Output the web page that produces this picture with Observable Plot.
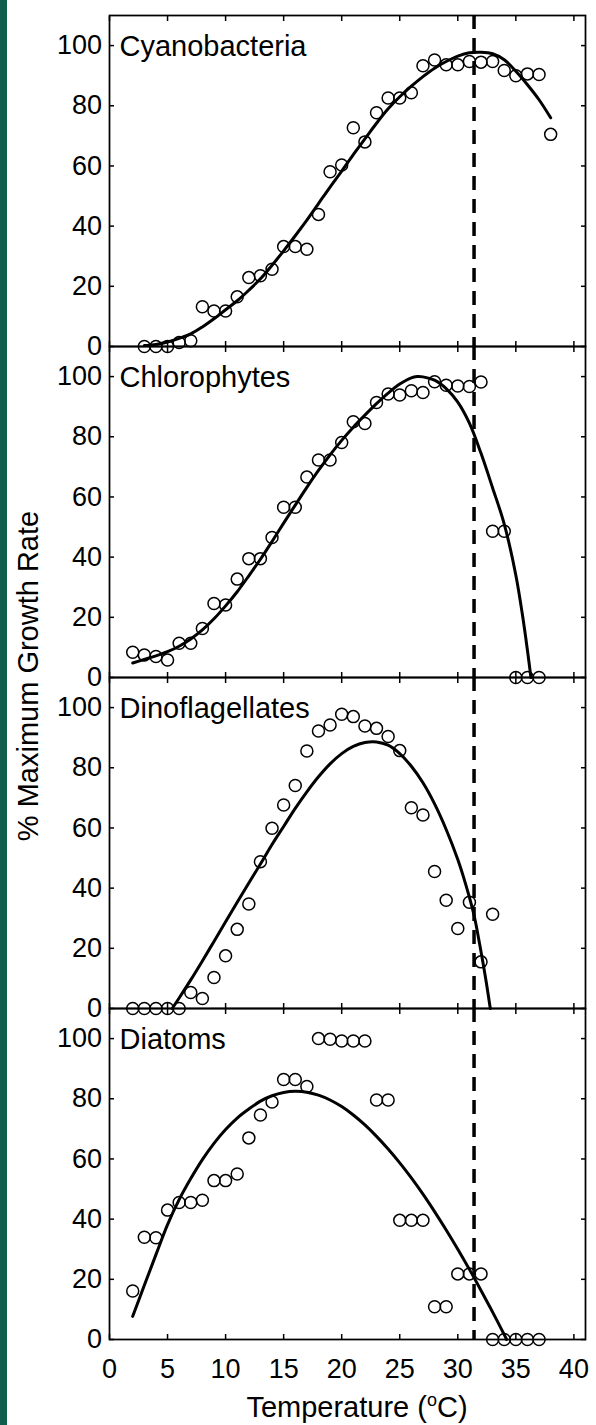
<!DOCTYPE html>
<html>
<head>
<meta charset="utf-8">
<script src="https://cdn.jsdelivr.net/npm/d3@7"></script>
<script src="https://cdn.jsdelivr.net/npm/@observablehq/plot@0.6"></script>
<style>
  html, body { margin: 0; padding: 0; background: #fff; }
  #wrap { position: relative; width: 596px; height: 1425px; }
  #strip { position: absolute; left: 0; top: 0; width: 7px; height: 1425px; background: #115e4e; }
</style>
</head>
<body>
<div id="wrap"><div id="strip"></div></div>
<script>
// ---- Data ----
const groups = ["Cyanobacteria", "Chlorophytes", "Dinoflagellates", "Diatoms"];

const cyanoTemp = [3,4,5,6,7,8,9,10,11,12,13,14,15,16,17,18,19,20,21,22,23,24,25,26,27,28,29,30,31,32,33,34,35,36,37,38];
const cyanoRate = [0,0,0,1.3,1.9,13.2,11.8,11.8,16.5,22.9,23.5,25.7,33.2,33.2,32.3,43.9,58.1,60.3,72.7,68,77.7,82.6,82.6,84.3,93.3,95.2,93.6,93.6,94.7,94.5,94.7,91.7,90,90.6,90.4,70.5];

const chloroTemp = [2,3,4,5,6,7,8,9,10,11,12,13,14,15,16,17,18,19,20,21,22,23,24,25,26,27,28,29,30,31,32,33,34,35,36,37];
const chloroRate = [8.4,7.5,7,5.8,11.4,11.4,16.3,24.6,24.1,32.7,39.5,39.5,46.5,56.6,56.6,66.6,72.3,72.3,78.1,85,84.4,91.4,94.2,93.9,95.3,94.7,98.3,97.1,96.9,96.7,98.2,48.6,48.6,0,0,0];

const dinoTemp = [2,3,4,5,6,7,8,9,10,11,12,13,14,15,16,17,18,19,20,21,22,23,24,25,26,27,28,29,30,31,32,33];
const dinoRate = [0,0,0,0,0,5.3,3.3,10.3,17.5,26.3,34.7,48.8,59.9,67.6,74.1,85.6,92.2,94.2,97.8,97,93.9,93.1,90.4,85.7,66.7,64.3,45.5,36,26.6,35.3,15.5,31.3];

const diatomTemp = [2,3,4,5,6,7,8,9,10,11,12,13,14,15,16,17,18,19,20,21,22,23,24,25,26,27,28,29,30,31,32,33,34,35,36,37];
const diatomRate = [16.1,34,33.8,43,45.5,45.5,46.3,52.8,52.8,55,67,74.6,78.9,86.4,86.4,84.1,100,99.8,99.2,99.2,99.2,79.6,79.6,39.6,39.6,39.6,10.9,10.9,21.8,21.8,21.8,0,0,0,0,0];

// fitted curves
const cyanoFitTemp = [3,4,5,6,7,8,9,10,11,12,13,14,15,16,17,18,19,20,21,22,23,24,25,26,27,28,29,30,31,32,33,34,35,36,37,38];
const cyanoFitRate = [0.3,0.7,1.5,2.7,4.2,6.5,9.2,12.2,15.2,18.7,22.5,27,31.8,36.8,42,47.5,53,58.3,63.8,69,74.2,79,83,86.5,89.7,92.5,94.7,96.5,97.6,97.8,97.3,95.3,91.5,87,82,76];

const chloroFitTemp = [2,3,4,5,6,7,8,9,10,11,12,13,14,15,16,17,18,19,20,21,22,23,24,25,26,26.5,27,28,29,30,31,32,33,34,35,35.6,36,36.3];
const chloroFitRate = [4.8,6,7.2,8.6,10.4,12.8,15.8,19.5,23.8,28.5,33.8,39.3,45.2,51.3,57.3,63.2,68.8,74,78.8,83.2,87.2,91,94.5,97.5,99.6,100,99.9,98.8,96,91.5,84.5,74.5,63,51,34,20,9,0];

const dinoFitTemp = [5.4,6,7,8,9,10,11,12,13,14,15,16,17,18,19,20,21,22,23,24,25,26,27,28,29,30,30.7,31.4,31.9,32.4,32.8];
const dinoFitRate = [0,3.5,9.5,15.8,22.3,28.8,35.3,41.7,48,54.5,60.5,66.5,72,77,81.3,84.7,87.1,88.4,88.6,87.5,84.7,80.5,75,68,59.5,49.5,41,31,21,10,0];

const diatomFitTemp = [2,3,4,5,6,7,8,9,10,11,12,13,14,15,16,17,18,19,20,21,22,23,24,25,26,27,28,29,30,31,32,33,34,34.2];
const diatomFitRate = [7.7,18,28.2,38.2,46.5,53.5,59.8,65.2,69.8,73.6,76.6,79.2,81,82.1,82.5,82.2,81.2,79.6,77.4,74.6,71.3,67.5,63.3,58.7,53.7,48.3,42.5,36.4,30,23.3,16.3,9.1,1.6,0];

const optimumTemp = [31.4];
const xTicks = [0,5,10,15,20,25,30,35,40];
const yTicks = [0,20,40,60,80,100];

// ---- tables ----
const obsT = [cyanoTemp, chloroTemp, dinoTemp, diatomTemp];
const obsR = [cyanoRate, chloroRate, dinoRate, diatomRate];
const fitT = [cyanoFitTemp, chloroFitTemp, dinoFitTemp, diatomFitTemp];
const fitR = [cyanoFitRate, chloroFitRate, dinoFitRate, diatomFitRate];
const obs = groups.flatMap((g, i) => obsT[i].map((t, j) => ({group: g, temp: t, rate: obsR[i][j]})));
const fits = groups.flatMap((g, i) => fitT[i].map((t, j) => ({group: g, temp: t, rate: fitR[i][j]})));

const chart = Plot.plot({
  width: 596,
  height: 1425,
  marginTop: 15,
  marginBottom: 86,
  marginLeft: 109,
  marginRight: 11,
  style: {fontFamily: "'Liberation Sans', Arial, sans-serif", fontSize: "27px", background: "white", color: "black"},
  x: {domain: [0, 41], label: null},
  y: {domain: [0, 110], label: null},
  fy: {domain: groups, padding: 0, axis: null, label: null},
  marks: [
    Plot.ruleX(optimumTemp, {stroke: "black", strokeWidth: 3.5, strokeDasharray: "14,9"}),
    Plot.line(fits, {x: "temp", y: "rate", fy: "group", stroke: "black", strokeWidth: 3, curve: "catmull-rom"}),
    Plot.dot(obs, {x: "temp", y: "rate", fy: "group", r: 6, stroke: "black", strokeWidth: 1.5, fill: "none"}),
    Plot.frame({stroke: "black", strokeWidth: 1.75}),
    Plot.axisY({ticks: yTicks, tickSize: -5, tickPadding: 12.5, fontSize: 27, label: null, strokeWidth: 1.5}),
    Plot.axisY({anchor: "right", ticks: yTicks, tickSize: -5, tickFormat: () => "", label: null, strokeWidth: 1.5}),
    Plot.axisX({anchor: "bottom", ticks: xTicks, tickSize: -5, tickFormat: () => "", label: null, facetAnchor: null, strokeWidth: 1.5}),
    Plot.axisX({anchor: "top", ticks: xTicks, tickSize: -5, tickFormat: () => "", label: null, facetAnchor: null, strokeWidth: 1.5}),
    Plot.axisX({anchor: "bottom", ticks: xTicks, tickSize: 0, tickPadding: 19, fontSize: 27, label: null}),
    Plot.text(groups, {fy: d => d, text: d => d, frameAnchor: "top-left", dx: 10, dy: 20, lineAnchor: "top", textAnchor: "start", fontSize: 29, fill: "black"})
  ]
});

const svg = d3.select(chart);
svg.append("text")
  .attr("transform", "translate(37.5,676) rotate(-90)")
  .attr("text-anchor", "middle")
  .attr("font-size", 29)
  .attr("fill", "black")
  .text("% Maximum Growth Rate");
const xt = svg.append("text")
  .attr("x", 357).attr("y", 1417)
  .attr("text-anchor", "middle")
  .attr("font-size", 29)
  .attr("fill", "black");
xt.append("tspan").text("Temperature (");
xt.append("tspan").attr("font-size", 18).attr("dy", -11).text("o");
xt.append("tspan").attr("dy", 11).text("C)");

document.getElementById("wrap").appendChild(chart);
</script>
</body>
</html>
